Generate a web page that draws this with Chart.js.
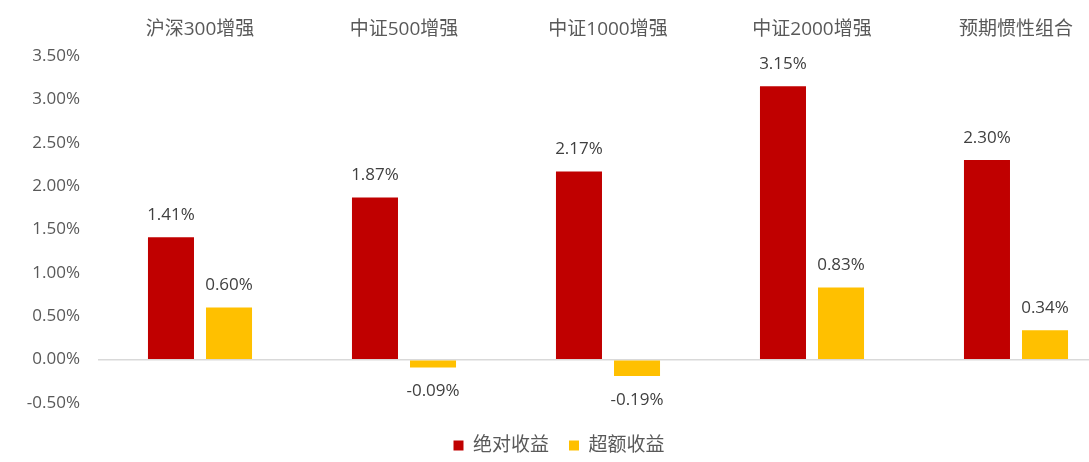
<!DOCTYPE html>
<html>
<head>
<meta charset="utf-8">
<script src="https://cdn.jsdelivr.net/npm/chart.js@4/dist/chart.umd.min.js"></script>
<style>
  html, body { margin: 0; padding: 0; background: #fff; overflow: hidden; }
  #caja { width: 1118px; height: 465px; }
</style>
</head>
<body>
<div id="caja"><canvas id="grafico"></canvas></div>
<script>
// datos
const categorias = ['沪深300增强', '中证500增强', '中证1000增强', '中证2000增强', '预期惯性组合'];
const absoluto = [1.41, 1.87, 2.17, 3.15, 2.30];
const exceso = [0.60, -0.09, -0.19, 0.83, 0.34];
const nombresSeries = ['绝对收益', '超额收益'];

const fuente = '"Open Sans", "Noto Sans CJK SC", sans-serif';
const gris = '#595959';

// etiquetas encima / debajo de cada barra
const etiquetasBarras = {
  id: 'etiquetasBarras',
  afterDatasetsDraw(chart) {
    const ctx = chart.ctx;
    ctx.save();
    ctx.font = '17px ' + fuente;
    ctx.fillStyle = '#404040';
    ctx.textAlign = 'center';
    ctx.textBaseline = 'middle';
    chart.data.datasets.forEach((ds, i) => {
      chart.getDatasetMeta(i).data.forEach((barra, j) => {
        const v = ds.data[j];
        const y = v >= 0 ? barra.y - 22 : barra.y + 24;
        ctx.fillText(v.toFixed(2) + '%', barra.x, y);
      });
    });
    ctx.restore();
  }
};

new Chart(document.getElementById('grafico'), {
  type: 'bar',
  data: {
    labels: categorias,
    datasets: [{
      label: nombresSeries[0],
      data: absoluto,
      backgroundColor: '#C00000',
      barPercentage: 0.793,
      categoryPercentage: 0.569
    }, {
      label: nombresSeries[1],
      data: exceso,
      backgroundColor: '#FFC000',
      barPercentage: 0.793,
      categoryPercentage: 0.569
    }]
  },
  options: {
    responsive: true,
    maintainAspectRatio: false,
    animation: false,
    layout: { padding: 0 },
    plugins: {
      legend: {
        position: 'bottom',
        labels: {
          boxWidth: 10,
          boxHeight: 10,
          padding: 20,
          color: gris,
          font: { family: fuente, size: 19 }
        }
      },
      tooltip: { enabled: false }
    },
    scales: {
      x: {
        position: 'top',
        grid: { display: false },
        border: { display: false },
        ticks: { color: gris, font: { family: fuente, size: 19 }, padding: 7 },
        afterFit(scale) { scale.height = 56; }
      },
      // eje vacio para dejar aire encima de la leyenda
      xAire: {
        position: 'bottom',
        grid: { display: false },
        border: { display: false },
        ticks: { display: false },
        afterFit(scale) { scale.height = 13; }
      },
      y: {
        min: -0.5,
        max: 3.5,
        border: { display: false },
        grid: {
          drawTicks: false,
          color: ctx => ctx.tick && ctx.tick.value === 0 ? '#d9d9d9' : 'rgba(0,0,0,0)',
          lineWidth: 1.5
        },
        ticks: {
          stepSize: 0.5,
          padding: 18,
          color: gris,
          font: { family: fuente, size: 17 },
          callback: v => v.toFixed(2) + '%'
        },
        afterFit(scale) { scale.width = 98; }
      }
    }
  },
  plugins: [etiquetasBarras]
});
</script>
</body>
</html>
